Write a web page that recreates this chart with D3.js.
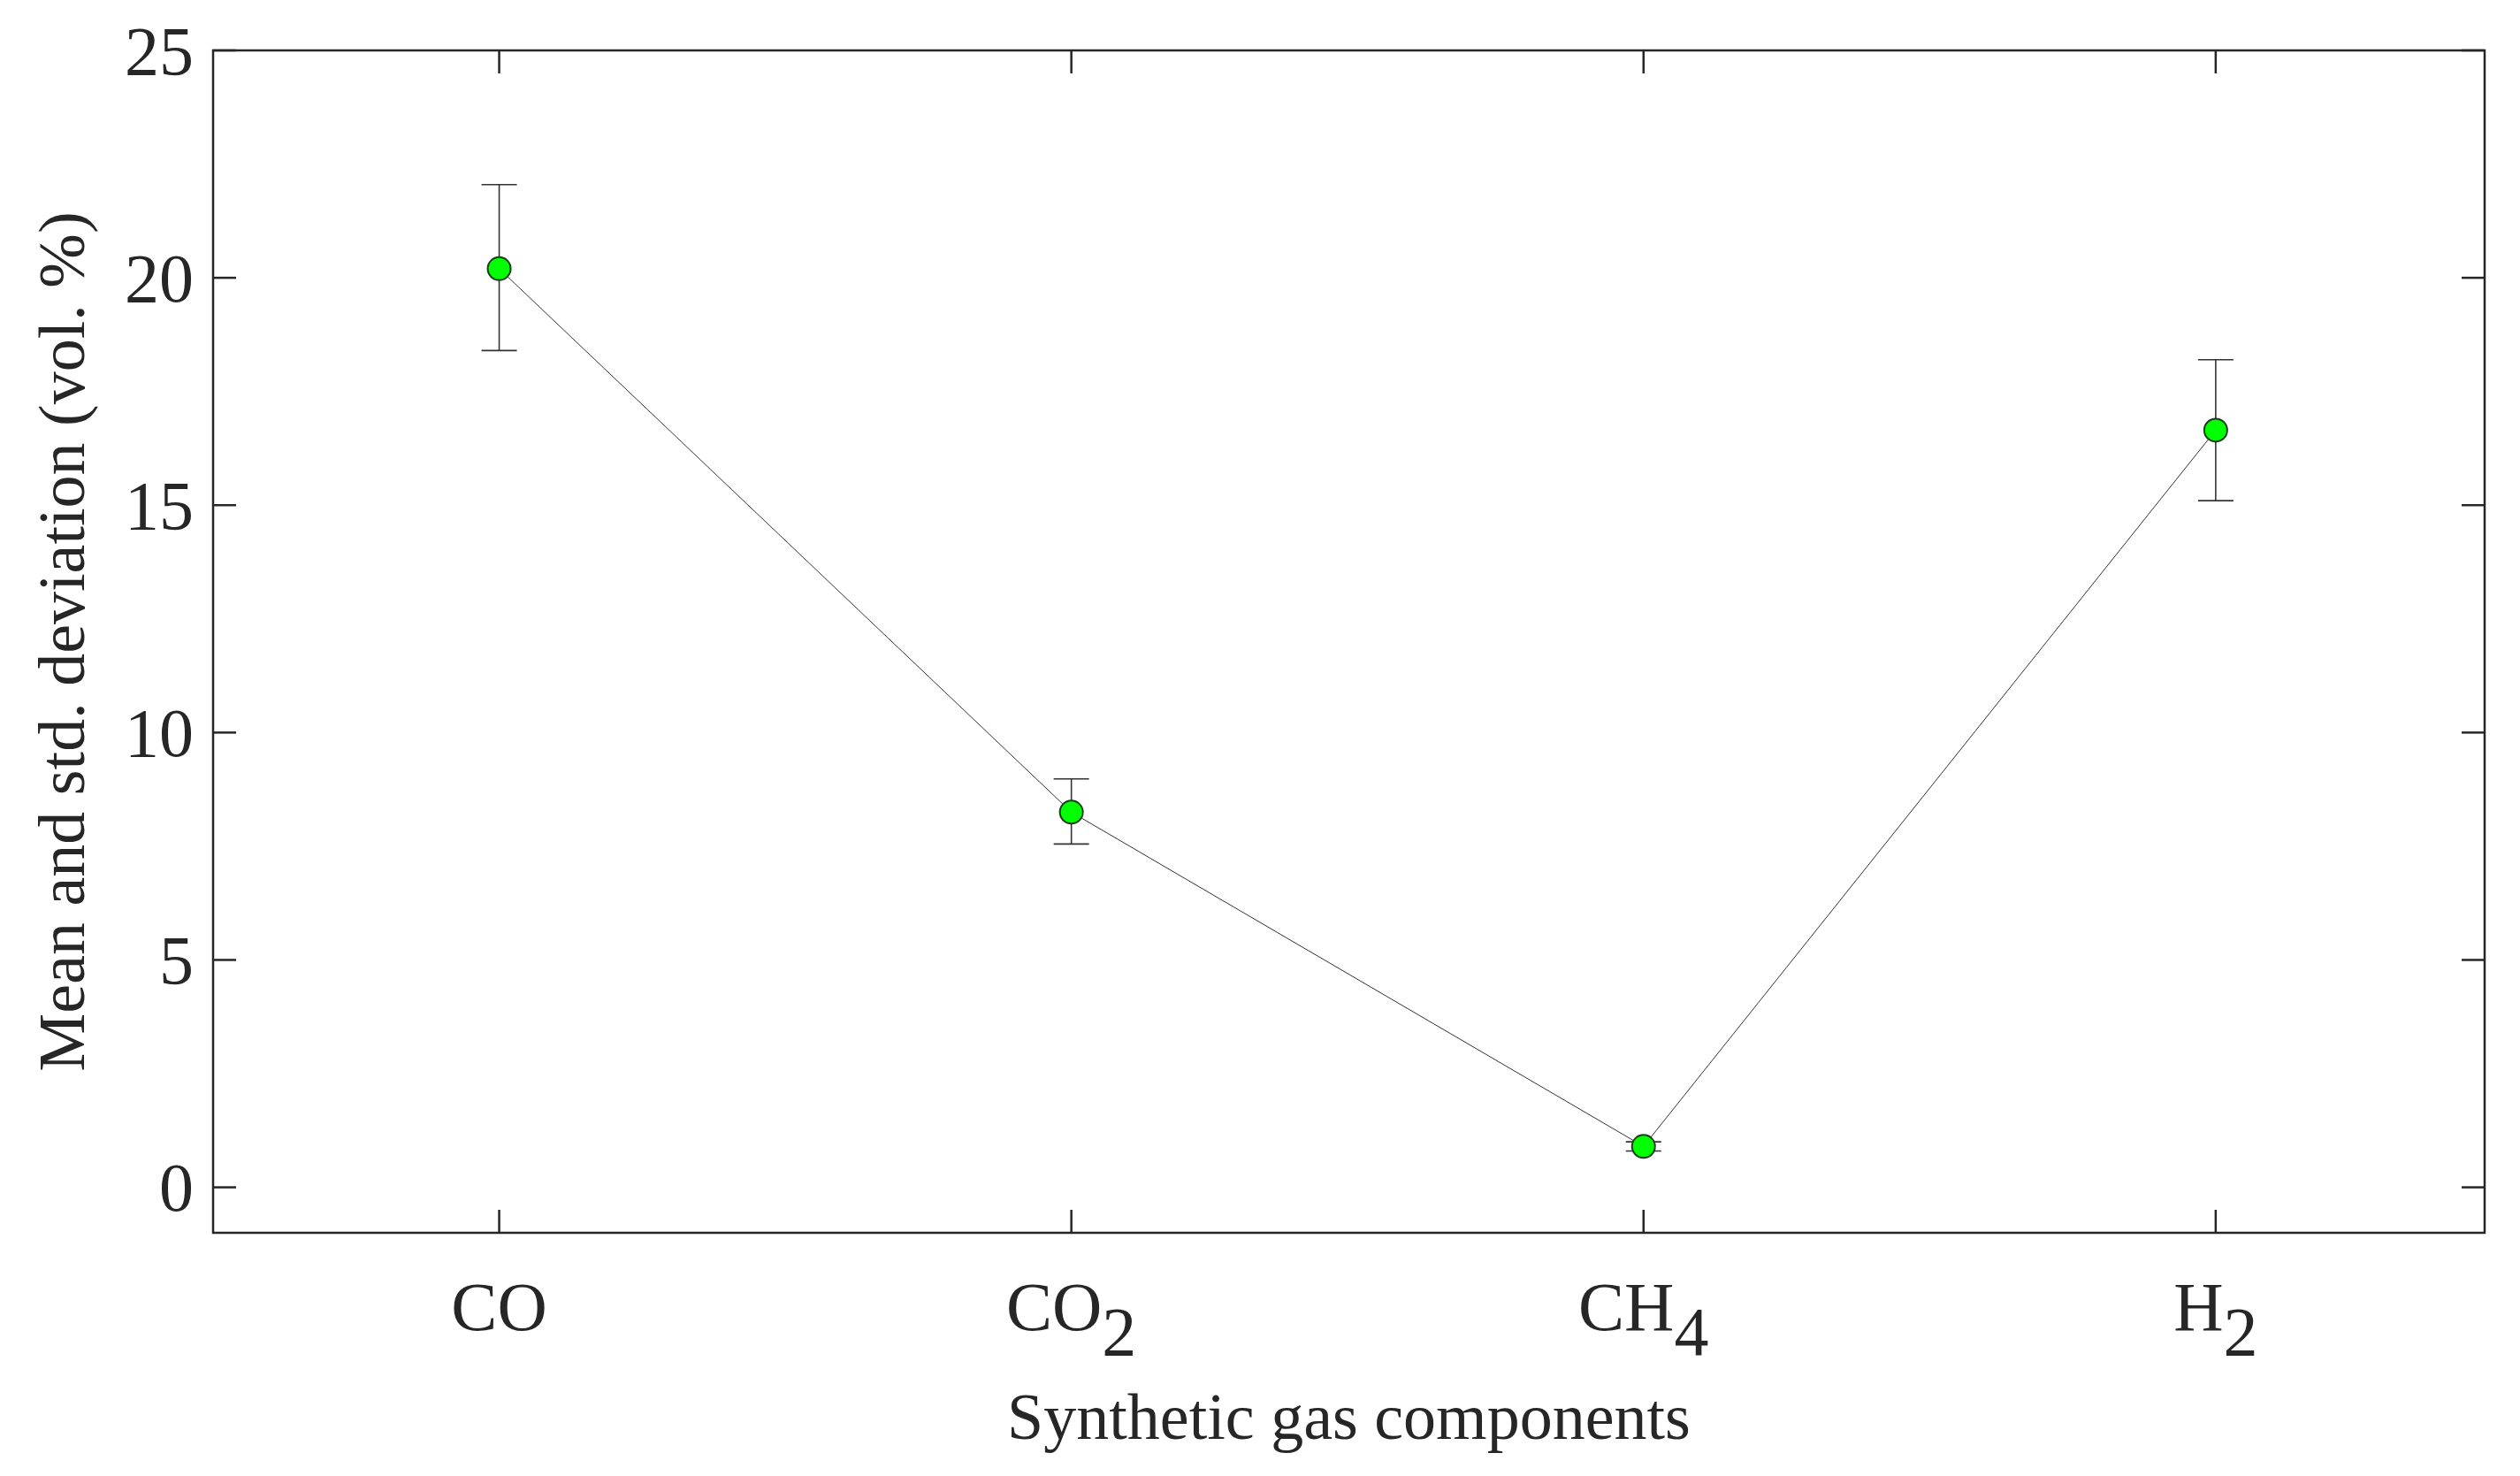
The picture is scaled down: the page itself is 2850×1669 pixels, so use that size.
<!DOCTYPE html>
<html>
<head>
<meta charset="utf-8">
<script src="https://cdn.jsdelivr.net/npm/d3@7"></script>
<style>
  body { margin: 0; background: #fff; }
  text { font-family: "Liberation Serif", serif; fill: #262626; }
</style>
</head>
<body>
<svg id="chart" width="2850" height="1669"></svg>
<script>
const categories = ["CO", "CO2", "CH4", "H2"];
const subscripts = ["", "2", "4", "2"];
const bases = ["CO", "CO", "CH", "H"];
const means = [20.2, 8.25, 0.9, 16.65];
const lows = [18.4, 7.55, 0.8, 15.1];
const highs = [22.05, 8.98, 1.0, 18.2];
const yTicks = [0, 5, 10, 15, 20, 25];

const svg = d3.select("#chart");
const pLeft = 241, pRight = 2810, pTop = 57, pBottom = 1394;

const x = d3.scaleLinear().domain([0.5, 4.47]).range([pLeft, pRight]);
const y = d3.scaleLinear().domain([-1, 25]).range([pBottom, pTop]);
const tickLen = 26;

// frame
svg.append("rect")
  .attr("x", pLeft).attr("y", pTop)
  .attr("width", pRight - pLeft).attr("height", pBottom - pTop)
  .attr("fill", "none").attr("stroke", "#262626").attr("stroke-width", 2.5);

// y ticks (inside, both sides)
yTicks.forEach(t => {
  svg.append("line").attr("x1", pLeft).attr("x2", pLeft + tickLen)
    .attr("y1", y(t)).attr("y2", y(t)).attr("stroke", "#262626").attr("stroke-width", 2.5);
  svg.append("line").attr("x1", pRight).attr("x2", pRight - tickLen)
    .attr("y1", y(t)).attr("y2", y(t)).attr("stroke", "#262626").attr("stroke-width", 2.5);
  svg.append("text").attr("x", pLeft - 22).attr("y", y(t))
    .attr("text-anchor", "end").attr("dominant-baseline", "central")
    .attr("font-size", 78).text(t);
});

// x ticks and labels
categories.forEach((c, i) => {
  const px = x(i + 1);
  svg.append("line").attr("x1", px).attr("x2", px)
    .attr("y1", pBottom).attr("y2", pBottom - tickLen).attr("stroke", "#262626").attr("stroke-width", 2.5);
  svg.append("line").attr("x1", px).attr("x2", px)
    .attr("y1", pTop).attr("y2", pTop + tickLen).attr("stroke", "#262626").attr("stroke-width", 2.5);
  const t = svg.append("text").attr("x", px).attr("y", pBottom + 110)
    .attr("text-anchor", "middle").attr("font-size", 78);
  t.append("tspan").text(bases[i]);
  if (subscripts[i]) t.append("tspan").attr("dy", 28).text(subscripts[i]);
});

// axis titles
svg.append("text").attr("x", (pLeft + pRight) / 2).attr("y", pBottom + 233)
  .attr("text-anchor", "middle").attr("font-size", 74).text("Synthetic gas components");
svg.append("text")
  .attr("transform", `translate(95, ${(pTop + pBottom) / 2}) rotate(-90)`)
  .attr("text-anchor", "middle").attr("font-size", 74)
  .text("Mean and std. deviation (vol. %)");

// line
svg.append("path")
  .datum(means)
  .attr("d", d3.line().x((d, i) => x(i + 1)).y(d => y(d)))
  .attr("fill", "none").attr("stroke", "#333").attr("stroke-width", 1);

// error bars
const cap = 20;
means.forEach((m, i) => {
  const px = x(i + 1);
  const g = svg.append("g").attr("stroke", "#333").attr("stroke-width", 1.6);
  g.append("line").attr("x1", px).attr("x2", px).attr("y1", y(lows[i])).attr("y2", y(highs[i]));
  g.append("line").attr("x1", px - cap).attr("x2", px + cap).attr("y1", y(lows[i])).attr("y2", y(lows[i]));
  g.append("line").attr("x1", px - cap).attr("x2", px + cap).attr("y1", y(highs[i])).attr("y2", y(highs[i]));
});

// markers
svg.selectAll("circle.pt").data(means).enter().append("circle")
  .attr("cx", (d, i) => x(i + 1)).attr("cy", d => y(d)).attr("r", 13)
  .attr("fill", "#00ff00").attr("stroke", "#1a3d1a").attr("stroke-width", 2);
</script>
</body>
</html>
